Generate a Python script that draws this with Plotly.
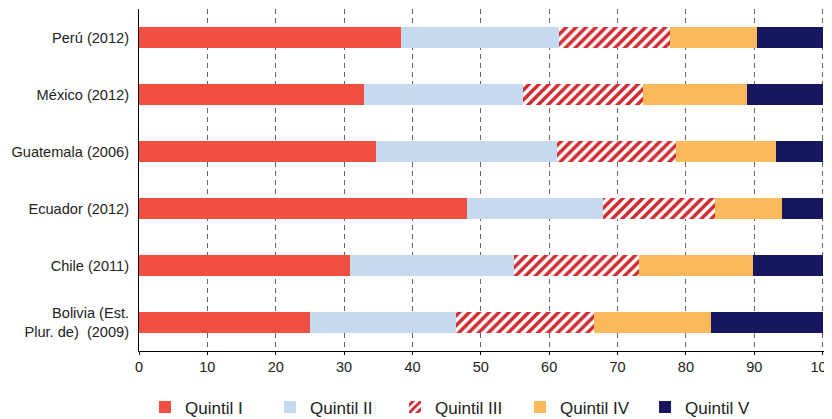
import plotly.graph_objects as go

categories = ["Perú (2012)", "México (2012)", "Guatemala (2006)", "Ecuador (2012)",
              "Chile (2011)", "Bolivia (Est.<br>Plur. de)  (2009)"]
q1 = [38.3, 32.9, 34.7, 48.0, 30.9, 25.0]
q2 = [23.1, 23.3, 26.4, 19.8, 24.0, 21.4]
q3 = [16.2, 17.5, 17.5, 16.5, 18.3, 20.1]
q4 = [12.8, 15.2, 14.6, 9.8, 16.6, 17.2]
q5 = [9.6, 11.1, 6.8, 5.9, 10.2, 16.3]
series_names = ["Quintil I", "Quintil II", "Quintil III", "Quintil IV", "Quintil V"]
tick_vals = [0, 10, 20, 30, 40, 50, 60, 70, 80, 90, 100]

colors = ["#F04E40", "#C5D9EF", "#D02A30", "#FBBA5A", "#16175F"]

fig = go.Figure()
for name, vals, col in zip(series_names, [q1, q2, q3, q4, q5], colors):
    if name == "Quintil III":
        marker = dict(color="white",
                      pattern=dict(shape="/", fgcolor=col, bgcolor="white",
                                   size=7, solidity=0.5, fgopacity=1),
                      line=dict(width=0))
    else:
        marker = dict(color=col, line=dict(width=0))
    fig.add_trace(go.Bar(y=categories, x=vals, name=name, orientation="h",
                         marker=marker))

# page body adds an 8px offset, so the figure is 824x411
fig.update_layout(
    barmode="stack",
    bargap=0.615,
    width=824, height=411,
    margin=dict(l=131, r=8, t=1, b=68, autoexpand=False),
    plot_bgcolor="white", paper_bgcolor="white",
    font=dict(family="Liberation Sans, Arial, sans-serif", size=14, color="#222"),
    legend=dict(orientation="h", x=0.465, xanchor="center", y=-0.165, yanchor="middle",
                traceorder="normal", font=dict(size=17),
                entrywidth=80, entrywidthmode="pixels"),
    showlegend=True,
)
fig.update_xaxes(range=[0, 100.2], tickvals=tick_vals, showgrid=True,
                 gridcolor="#666", griddash="5px,4px", gridwidth=1,
                 showline=True, linecolor="black", linewidth=1,
                 ticks="outside", ticklen=3, tickcolor="black",
                 tickfont=dict(size=14.5), zeroline=False, automargin=False,
                 ticklabeloverflow="allow")
fig.update_yaxes(autorange="reversed", categoryorder="array", categoryarray=categories,
                 showline=True, linecolor="black", linewidth=1, ticks="",
                 tickfont=dict(size=14.6), ticklabelstandoff=6, automargin=False)

fig.write_html("out.html")
